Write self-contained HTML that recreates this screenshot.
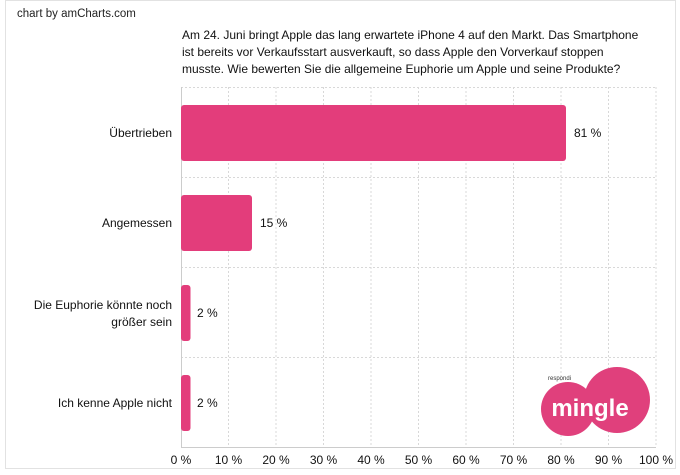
<!DOCTYPE html>
<html><head><style>
body{margin:0;background:#fff;}
svg{display:block;font-family:"Liberation Sans",Arial,sans-serif;}
</style></head><body>
<svg width="680" height="475" viewBox="0 0 680 475">
<rect x="5.5" y="0.5" width="670" height="468" fill="#fff" stroke="#e2e2e2"/>
<text x="17" y="17" font-size="11.5" fill="#222">chart by amCharts.com</text>
<g font-size="12" fill="#111">
<text x="182" y="39">Am 24. Juni bringt Apple das lang erwartete iPhone 4 auf den Markt. Das Smartphone</text>
<text x="182" y="56">ist bereits vor Verkaufsstart ausverkauft, so dass Apple den Vorverkauf stoppen</text>
<text x="182" y="73">musste. Wie bewerten Sie die allgemeine Euphorie um Apple und seine Produkte?</text>
</g>
<g stroke="#d8d8d8" stroke-dasharray="2,2" fill="none">
<line x1="181" y1="87.5" x2="656" y2="87.5"/>
<line x1="181" y1="177.5" x2="656" y2="177.5"/>
<line x1="181" y1="267.5" x2="656" y2="267.5"/>
<line x1="181" y1="357.5" x2="656" y2="357.5"/>
<line x1="228.5" y1="87" x2="228.5" y2="447"/>
<line x1="276" y1="87" x2="276" y2="447"/>
<line x1="323.5" y1="87" x2="323.5" y2="447"/>
<line x1="371" y1="87" x2="371" y2="447"/>
<line x1="418.5" y1="87" x2="418.5" y2="447"/>
<line x1="466" y1="87" x2="466" y2="447"/>
<line x1="513.5" y1="87" x2="513.5" y2="447"/>
<line x1="561" y1="87" x2="561" y2="447"/>
<line x1="608.5" y1="87" x2="608.5" y2="447"/>
<line x1="656" y1="87" x2="656" y2="447"/>
</g>
<line x1="181" y1="447.5" x2="656" y2="447.5" stroke="#ccc"/>
<line x1="181.5" y1="87" x2="181.5" y2="447" stroke="#ccc"/>
<g fill="#e33d7b">
<rect x="181" y="105" width="385" height="56" rx="3"/>
<rect x="181" y="195" width="71" height="56" rx="3"/>
<rect x="181" y="285" width="9.5" height="56" rx="3"/>
<rect x="181" y="375" width="9.5" height="56" rx="3"/>
</g>
<g font-size="12" fill="#111">
<text x="574" y="137">81 %</text>
<text x="260" y="227">15 %</text>
<text x="197" y="317">2 %</text>
<text x="197" y="407">2 %</text>
</g>
<g font-size="12" fill="#111" text-anchor="end">
<text x="172" y="137">Übertrieben</text>
<text x="172" y="227">Angemessen</text>
<text x="172" y="309">Die Euphorie könnte noch</text>
<text x="172" y="326">größer sein</text>
<text x="172" y="407">Ich kenne Apple nicht</text>
</g>
<g font-size="12" fill="#111" text-anchor="middle">
<text x="181" y="464">0 %</text><text x="228.5" y="464">10 %</text><text x="276" y="464">20 %</text>
<text x="323.5" y="464">30 %</text><text x="371" y="464">40 %</text><text x="418.5" y="464">50 %</text>
<text x="466" y="464">60 %</text><text x="513.5" y="464">70 %</text><text x="561" y="464">80 %</text>
<text x="608.5" y="464">90 %</text><text x="656" y="464">100 %</text>
</g>
<g>
<circle cx="568" cy="409" r="27" fill="#e0407c"/>
<circle cx="617" cy="400" r="33" fill="#e0407c"/>
<text x="548" y="380" font-size="6" fill="#333">respondi</text>
<text x="590" y="416" font-size="24" font-weight="bold" fill="#fff" text-anchor="middle">mingle</text>
</g>
</svg>
</body></html>
